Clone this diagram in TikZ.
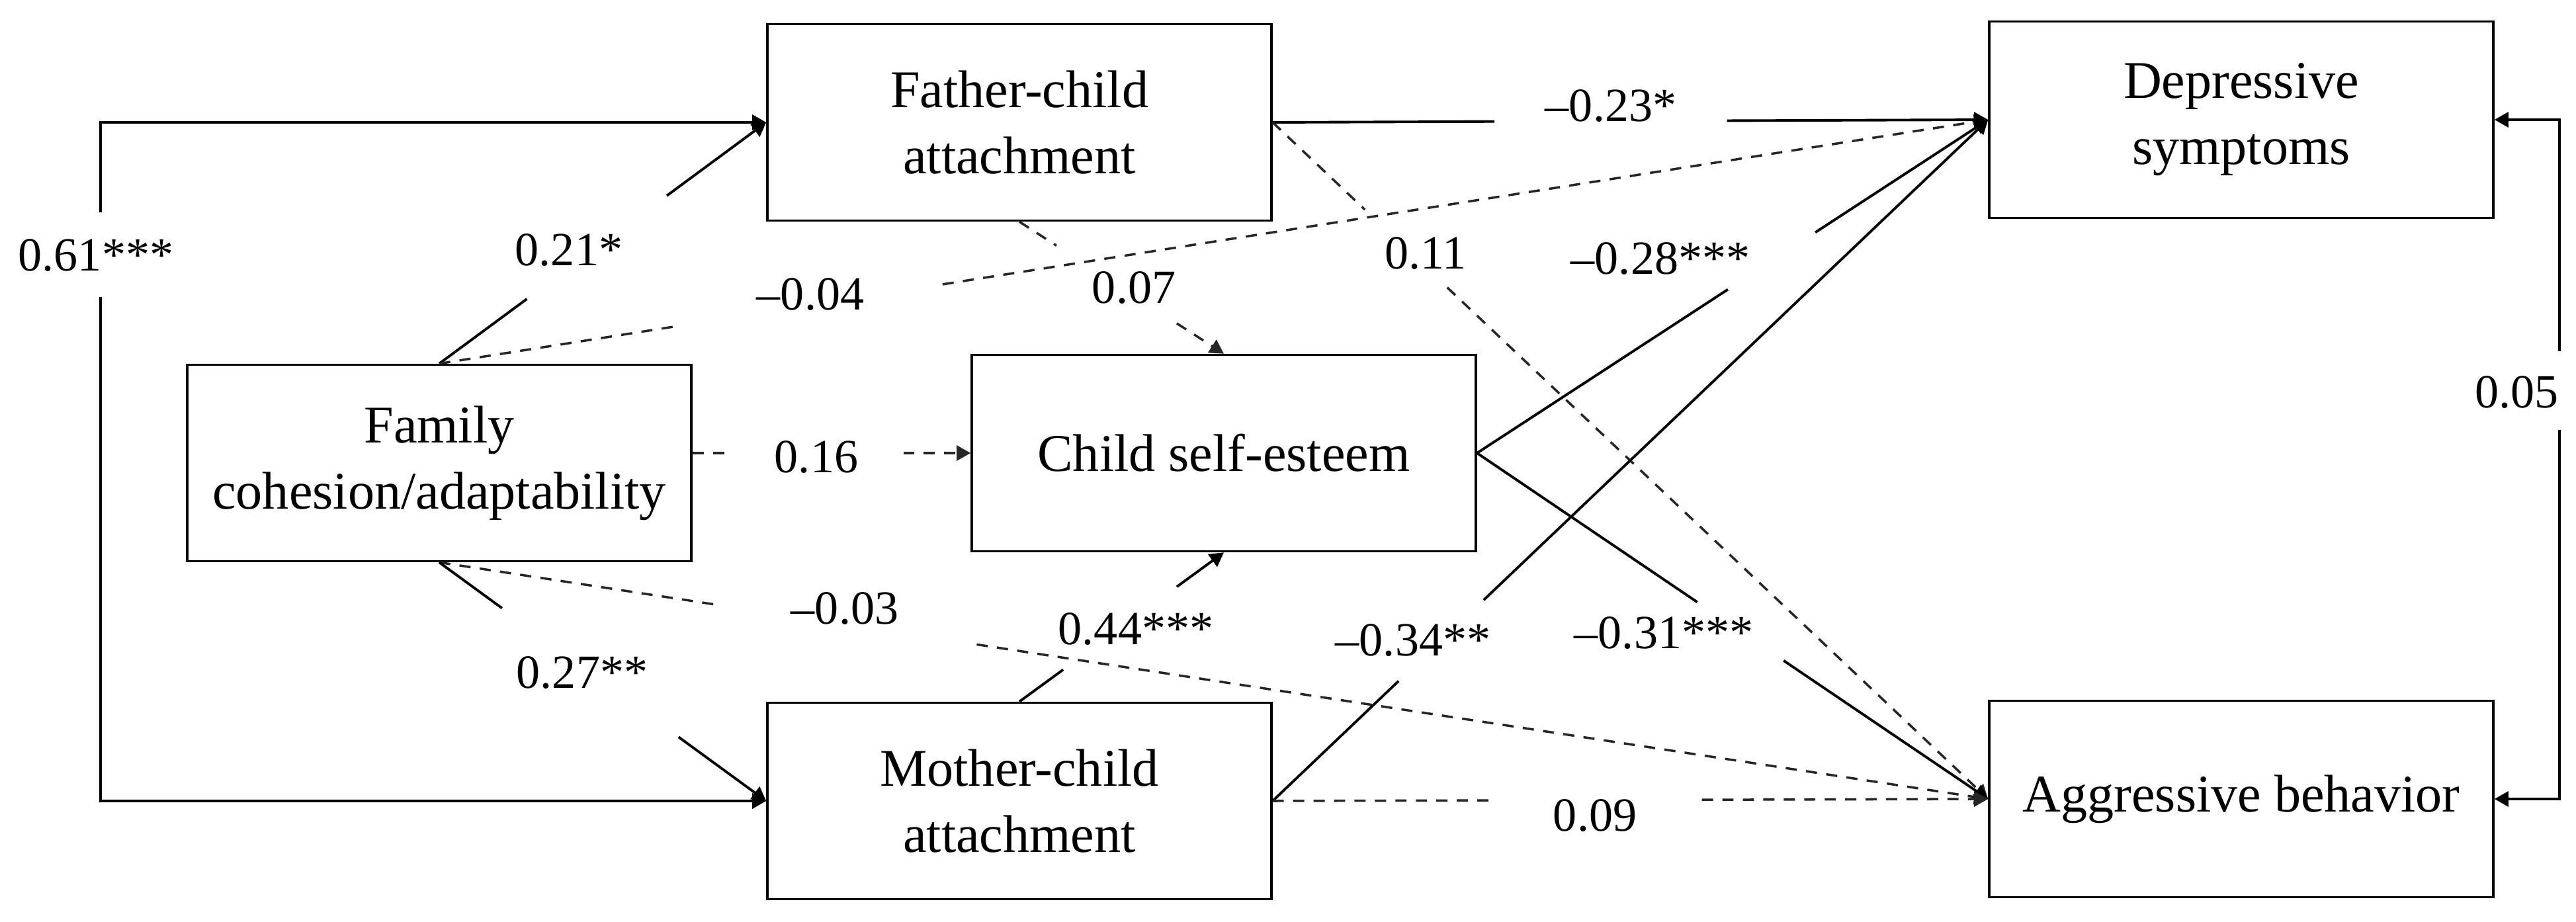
\documentclass[tikz,border=0pt]{standalone}
\usepackage{fontspec}
\setmainfont{Liberation Serif}
\usetikzlibrary{arrows.meta}
\tikzset{
  varbox/.style={draw, line width=1pt, minimum width=7.62cm, minimum height=2.97cm, inner sep=0pt, align=center, font=\fontsize{22.8pt}{28.5pt}\selectfont},
  coef/.style={inner sep=0pt, font=\fontsize{20.5pt}{24pt}\selectfont},
  sig/.style={line width=1.1pt, draw=black},
  nsig/.style={line width=1pt, draw=black!85, dash pattern=on 4.8pt off 4pt},
  headed/.style={-{Triangle[length=6pt,width=6.5pt]}},
}
\newcommand\splitedge[6][]{%
  \path (#3) -- (#4) coordinate[pos=#5] (#2a) coordinate[pos=#6] (#2b);
  \draw[#1] (#3) -- (#2a);
  \draw[#1,headed] (#2b) -- (#4);
}
\begin{document}
\begin{tikzpicture}
\useasboundingbox (0,0) rectangle (38.94,13.93);
% variables
\node[varbox] (Fam) at (6.64,6.93) {Family\\cohesion/adaptability};
\node[varbox] (Fat) at (15.41,12.08) {Father-child\\attachment};
\node[varbox] (Chi) at (18.50,7.08) {Child self-esteem};
\node[varbox] (Mot) at (15.41,1.82) {Mother-child\\attachment};
\node[varbox] (Dep) at (33.88,12.12) {Depressive\\symptoms};
\node[varbox] (Agg) at (33.88,1.85) {Aggressive behavior};
% paths (interrupted where the coefficient sits)
\splitedge[sig]{e1}{Fam.north}{Fat.west}{0.268}{0.696}
\splitedge[nsig]{e2}{Fam.north}{Dep.west}{0.153}{0.325}
\splitedge[nsig]{e3}{Fam.east |- Chi.west}{Chi.west}{0.115}{0.758}
\splitedge[nsig]{e4}{Fam.south}{Agg.west}{0.178}{0.347}
\splitedge[sig]{e5}{Fam.south}{Mot.west}{0.192}{0.732}
\splitedge[sig]{e6}{Fat.east}{Dep.west}{0.310}{0.635}
\splitedge[nsig]{e7}{Fat.east}{Agg.west}{0.129}{0.244}
\splitedge[nsig]{e8}{Fat.south}{Chi.north}{0.181}{0.770}
\splitedge[sig]{e9}{Chi.east}{Dep.west}{0.491}{0.662}
\splitedge[sig]{e10}{Chi.east}{Agg.west}{0.431}{0.600}
\splitedge[sig]{e11}{Mot.north}{Chi.south}{0.214}{0.770}
\splitedge[sig]{e12}{Mot.east}{Dep.west}{0.176}{0.295}
\splitedge[nsig]{e13}{Mot.east}{Agg.west}{0.304}{0.600}
% covariances
\coordinate (lga) at (1.52,10.72);
\coordinate (lgb) at (1.52,9.44);
\draw[sig,headed] (lga) |- (Fat.west);
\draw[sig,headed] (lgb) |- (Mot.west);
\coordinate (rga) at (38.69,8.62);
\coordinate (rgb) at (38.69,7.43);
\draw[sig,headed] (rga) |- (Dep.east);
\draw[sig,headed] (rgb) |- (Agg.east);
% coefficients
\node[coef] (c061) at (1.45,10.07) {0.61***};
\node[coef] (c021) at (8.60,10.15) {0.21*};
\node[coef] (c004) at (12.25,9.48) {–0.04};
\node[coef] (c016) at (12.34,7.02) {0.16};
\node[coef] (c003) at (12.77,4.73) {–0.03};
\node[coef] (c027) at (8.80,3.76) {0.27**};
\node[coef] (c023) at (24.35,12.33) {–0.23*};
\node[coef] (c011) at (21.55,10.10) {0.11};
\node[coef] (c007) at (17.14,9.58) {0.07};
\node[coef] (c028) at (25.10,10.02) {–0.28***};
\node[coef] (c031) at (25.15,4.36) {–0.31***};
\node[coef] (c044) at (17.17,4.42) {0.44***};
\node[coef] (c034) at (21.36,4.25) {–0.34**};
\node[coef] (c009) at (24.11,1.60) {0.09};
\node[coef] (c005) at (38.04,8.00) {0.05};
\end{tikzpicture}
\end{document}
